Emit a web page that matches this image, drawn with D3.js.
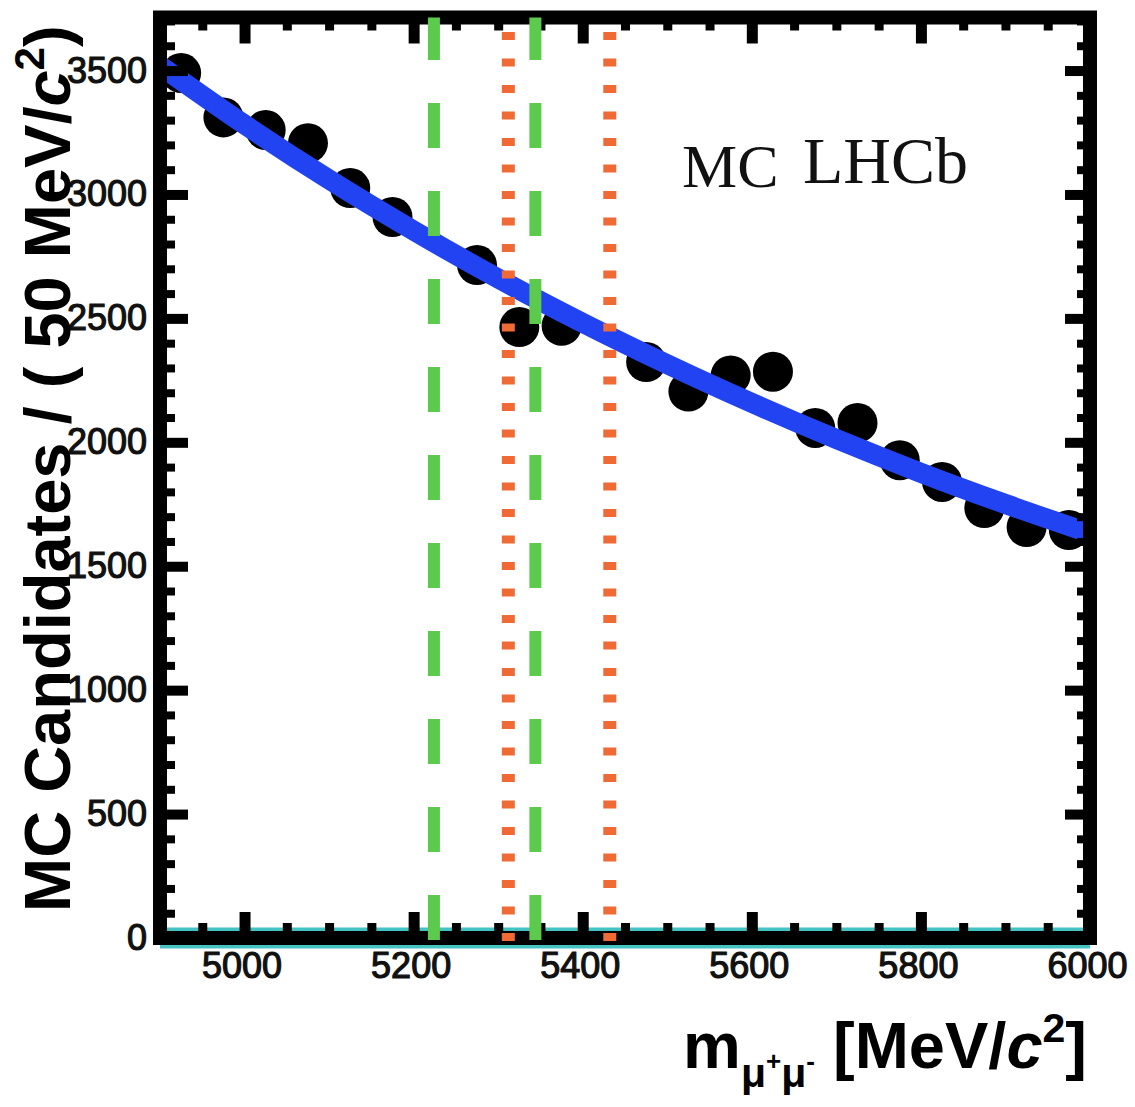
<!DOCTYPE html>
<html>
<head>
<meta charset="utf-8">
<title>MC Candidates</title>
<script src="https://cdn.jsdelivr.net/npm/d3@7"></script>
<style>
    html, body { margin: 0; padding: 0; background: #fff; }
    svg { display: block; }
</style>
</head>
<body>
<div id="chart"></div>
<script>
'use strict';

// bin centres (50 MeV bins)
var binCentres = [4925, 4975, 5025, 5075, 5125, 5175, 5225, 5275, 5325, 5375, 5425,
                  5475, 5525, 5575, 5625, 5675, 5725, 5775, 5825, 5875, 5925, 5975];
// candidates per bin, null where no marker shows in the plot
var candidates = [3490, 3311, 3260, 3207, 3026, 2909, null, 2715, 2465, 2470, null,
                  2324, 2205, 2270, 2285, 2058, 2078, 1928, 1840, 1735, 1658, 1646];

// fitted background, read every 100 MeV
var fitMass = [4900, 5000, 5100, 5200, 5300, 5400, 5500, 5600, 5700, 5800, 5900, 6000];
var fitValues = [3520, 3282, 3060, 2854, 2661, 2482, 2315, 2159, 2013, 1877, 1751, 1633];

// signal component, flat at zero
var signalMass = [4900, 6000];
var signalValues = [0, 0];

// mass windows
var b0Window = [5224, 5344];
var bsWindow = [5312, 5432];

var xTicks = [5000, 5200, 5400, 5600, 5800, 6000];
var yTicks = [0, 500, 1000, 1500, 2000, 2500, 3000, 3500];

var settings = {
    width: 1135,
    height: 1107,
    left: 160,
    right: 1090,
    top: 17.5,
    bottom: 938
};

var svg, x, y;

var buildScales = function(){
    x = d3.scaleLinear().domain([4900, 6000]).range([settings.left, settings.right]);
    y = d3.scaleLinear().domain([0, 3714]).range([settings.bottom, settings.top]);
};

var buildPoints = function(){
    var points = binCentres.map(function(m, i){
        return {m: m, v: candidates[i]};
    }).filter(function(d){
        return d.v !== null;
    });

    svg.selectAll('.point')
        .data(points)
        .enter()
        .append('circle')
        .attr('class', 'point')
        .attr('cx', function(d){ return x(d.m); })
        .attr('cy', function(d){ return y(d.v); })
        .attr('r', 20)
        .attr('fill', '#000');
};

var buildCurves = function(){
    var line = d3.line()
        .x(function(d){ return x(d[0]); })
        .y(function(d){ return y(d[1]); })
        .curve(d3.curveMonotoneX);

    svg.append('path')
        .datum(fitMass.map(function(m, i){ return [m, fitValues[i]]; }))
        .attr('d', line)
        .attr('fill', 'none')
        .attr('stroke', '#2243f2')
        .attr('stroke-width', 20);

    svg.append('path')
        .datum(signalMass.map(function(m, i){ return [m, signalValues[i]]; }))
        .attr('d', line)
        .attr('fill', 'none')
        .attr('stroke', '#45c2c2')
        .attr('stroke-width', 21);
};

var styleAxis = function(g, width){
    g.select('.domain').remove();
    g.selectAll('.tick line')
        .attr('stroke', '#000')
        .attr('stroke-width', width);
};

var buildAxes = function(){
    var minorX = d3.range(4900, 6001, 50),
        minorY = d3.range(0, 3714, 100);

    // frame
    svg.append('rect')
        .attr('x', settings.left)
        .attr('y', settings.top)
        .attr('width', settings.right - settings.left)
        .attr('height', settings.bottom - settings.top)
        .attr('fill', 'none')
        .attr('stroke', '#000')
        .attr('stroke-width', 14);

    // minor ticks on all four sides
    svg.append('g').attr('transform', 'translate(' + settings.left + ',0)')
        .call(d3.axisLeft(y).tickValues(minorY).tickSize(-15).tickFormat(''))
        .call(styleAxis, 8);
    svg.append('g').attr('transform', 'translate(' + settings.right + ',0)')
        .call(d3.axisRight(y).tickValues(minorY).tickSize(-13).tickFormat(''))
        .call(styleAxis, 8);
    svg.append('g').attr('transform', 'translate(0,' + settings.bottom + ')')
        .call(d3.axisBottom(x).tickValues(minorX).tickSize(-15).tickFormat(''))
        .call(styleAxis, 9);
    svg.append('g').attr('transform', 'translate(0,' + settings.top + ')')
        .call(d3.axisTop(x).tickValues(minorX).tickSize(-13).tickFormat(''))
        .call(styleAxis, 9);

    // major ticks
    var left = svg.append('g').attr('transform', 'translate(' + settings.left + ',0)')
        .call(d3.axisLeft(y).tickValues(yTicks).tickSize(-28).tickPadding(13).tickFormat(d3.format('d')))
        .call(styleAxis, 10);
    svg.append('g').attr('transform', 'translate(' + settings.right + ',0)')
        .call(d3.axisRight(y).tickValues(yTicks).tickSize(-25).tickFormat(''))
        .call(styleAxis, 10);
    var bottom = svg.append('g').attr('transform', 'translate(0,' + settings.bottom + ')')
        .call(d3.axisBottom(x).tickValues(xTicks).tickSize(-26).tickPadding(14).tickFormat(d3.format('d')))
        .call(styleAxis, 11);
    svg.append('g').attr('transform', 'translate(0,' + settings.top + ')')
        .call(d3.axisTop(x).tickValues(xTicks).tickSize(-26).tickFormat(''))
        .call(styleAxis, 11);

    [left, bottom].forEach(function(g){
        g.selectAll('.tick text')
            .attr('fill', '#111')
            .attr('stroke', '#111')
            .attr('stroke-width', 1.2)
            .style('font-family', '"Liberation Sans", Arial, Helvetica, sans-serif')
            .style('font-size', '36px');
    });
    bottom.selectAll('.tick text').attr('dx', -3);
};

var buildWindows = function(){
    var y0 = settings.bottom + 2,
        y1 = settings.top;

    svg.selectAll('.b0')
        .data(b0Window)
        .enter()
        .append('line')
        .attr('class', 'b0')
        .attr('x1', function(d){ return x(d); })
        .attr('x2', function(d){ return x(d); })
        .attr('y1', y0)
        .attr('y2', y1)
        .attr('stroke', '#5cca4c')
        .attr('stroke-width', 12)
        .attr('stroke-dasharray', '45 43');

    svg.selectAll('.bs')
        .data(bsWindow)
        .enter()
        .append('line')
        .attr('class', 'bs')
        .attr('x1', function(d){ return x(d); })
        .attr('x2', function(d){ return x(d); })
        .attr('y1', y0 + 1)
        .attr('y2', y1)
        .attr('stroke', '#f06a35')
        .attr('stroke-width', 13)
        .attr('stroke-dasharray', '8 18.5');
};

var buildTitles = function(){
    var sans = '"Liberation Sans", Arial, Helvetica, sans-serif',
        serif = '"Liberation Serif", "Times New Roman", serif';

    var yTitle = svg.append('text')
        .attr('transform', 'translate(70,912) rotate(-90)')
        .attr('fill', '#000')
        .style('font-family', sans)
        .style('font-weight', 'bold')
        .style('font-size', '65px');
    yTitle.append('tspan').text('MC Candidates / ( 50 MeV/');
    yTitle.append('tspan').style('font-style', 'italic').text('c');
    yTitle.append('tspan').attr('dy', -26).style('font-size', '42px').text('2');
    yTitle.append('tspan').attr('dy', 26).text(')');

    var xTitle = svg.append('text')
        .attr('x', 1087)
        .attr('y', 1068)
        .attr('text-anchor', 'end')
        .attr('fill', '#000')
        .style('font-family', sans)
        .style('font-weight', 'bold')
        .style('font-size', '65px');
    xTitle.append('tspan').text('m');
    xTitle.append('tspan').attr('dy', 19).style('font-size', '41px').text('\u03bc');
    xTitle.append('tspan').attr('dy', -17).style('font-size', '26px').text('+');
    xTitle.append('tspan').attr('dy', 17).style('font-size', '41px').text('\u03bc');
    xTitle.append('tspan').attr('dy', -17).style('font-size', '26px').text('-');
    xTitle.append('tspan').attr('dy', -2).text(' [MeV/');
    xTitle.append('tspan').style('font-style', 'italic').text('c');
    xTitle.append('tspan').attr('dy', -26).style('font-size', '41px').text('2');
    xTitle.append('tspan').attr('dy', 26).text(']');

    svg.append('text')
        .attr('x', 682)
        .attr('y', 187)
        .attr('fill', '#111')
        .style('font-family', serif)
        .style('font-size', '62px')
        .text('MC');
    svg.append('text')
        .attr('x', 803)
        .attr('y', 183)
        .attr('fill', '#111')
        .style('font-family', serif)
        .style('font-size', '66px')
        .text('LHCb');
};

var buildGraph = function(){
    svg = d3.select('#chart').append('svg')
        .attr('width', settings.width)
        .attr('height', settings.height);

    buildScales();
    buildPoints();
    buildCurves();
    buildAxes();
    buildWindows();
    buildTitles();
};
buildGraph();
</script>
</body>
</html>
